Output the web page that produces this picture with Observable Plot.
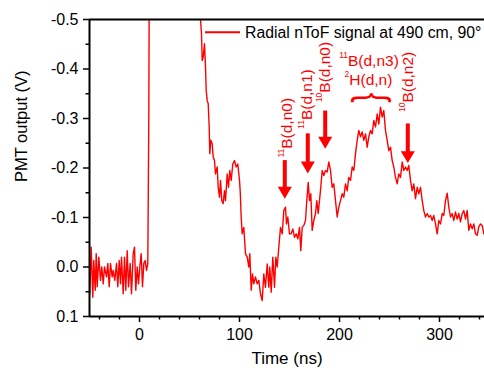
<!DOCTYPE html>
<html><head><meta charset="utf-8">
<script src="https://cdn.jsdelivr.net/npm/d3@7"></script>
<script src="https://cdn.jsdelivr.net/npm/@observablehq/plot@0.6"></script>
<style>html,body{margin:0;padding:0;background:#fff}</style>
</head><body><div id="chart"></div>
<script>
// ---- data ----
const timeNs = [-49.7,-48.3,-46.7,-45.7,-44.3,-43.3,-42.3,-40.7,-39.0,-37.7,-36.3,-35.0,-33.0,-31.7,-30.3,-29.0,-27.3,-26.3,-24.7,-23.0,-21.7,-20.3,-19.0,-18.0,-16.3,-15.0,-13.7,-12.3,-11.0,-9.3,-8.0,-6.3,-5.0,-3.7,-2.3,-1.0,0.3,1.7,3.0,4.3,5.7,7.0,8.3,9.3,9.8,
60.5,61.0,62.0,62.7,63.7,65.0,66.0,66.7,67.7,68.7,69.7,70.3,71.3,72.7,73.7,75.0,76.0,77.7,78.7,80.0,81.0,82.3,83.7,85.0,86.0,87.7,89.0,90.3,91.7,93.3,95.0,96.7,98.3,100.0,100.8,101.7,102.7,104.3,106.0,107.7,109.3,110.3,111.7,113.0,114.3,116.0,117.7,119.3,121.0,122.7,124.3,126.0,127.7,129.3,130.3,131.7,133.3,135.0,136.3,137.7,139.3,141.0,142.7,144.3,146.0,147.0,148.3,150.0,151.7,153.3,155.0,156.7,158.3,160.0,161.3,162.7,164.3,166.0,167.3,168.7,170.0,171.3,172.7,174.3,176.0,177.3,178.7,180.0,181.3,182.7,184.3,186.0,187.7,189.3,191.0,192.7,194.3,196.0,197.7,199.3,201.0,202.7,204.3,206.0,207.7,209.3,211.0,212.7,214.3,216.0,217.7,219.3,221.0,222.7,224.3,226.0,227.7,229.3,231.0,232.7,234.3,236.0,237.7,239.3,241.0,242.7,244.3,246.0,247.7,249.3,251.0,252.7,254.3,256.0,257.7,259.3,261.0,262.7,264.3,266.0,267.7,269.3,271.0,272.7,274.3,276.0,277.7,279.3,281.0,282.7,284.3,286.0,287.7,289.3,291.0,292.7,294.3,296.0,297.7,299.3,301.0,302.7,304.3,306.0,307.7,309.3,311.0,312.7,314.3,316.0,317.7,319.3,321.0,322.7,324.3,326.0,327.7,329.3,331.0,332.7,334.3,336.0,337.7,339.3,341.0,342.7,344.3];
const signalV = [0.054,-0.040,0.061,-0.013,0.047,-0.027,0.040,-0.020,0.027,0.000,0.034,0.000,0.020,-0.007,0.040,-0.007,0.020,0.007,0.027,-0.007,0.040,-0.013,0.034,-0.020,0.054,-0.020,0.047,-0.033,0.040,-0.007,0.054,-0.027,-0.040,0.047,0.000,0.034,0.000,-0.027,0.040,-0.007,-0.013,0.007,-0.007,-0.300,-0.600,
-0.600,-0.500,-0.471,-0.417,-0.424,-0.451,-0.404,-0.357,-0.336,-0.330,-0.282,-0.229,-0.256,-0.249,-0.222,-0.215,-0.188,-0.202,-0.161,-0.141,-0.175,-0.134,-0.128,-0.154,-0.134,-0.188,-0.161,-0.195,-0.175,-0.208,-0.215,-0.202,-0.208,-0.175,-0.150,-0.100,-0.067,-0.080,-0.027,-0.020,0.000,-0.027,0.047,0.014,0.034,0.020,0.034,0.027,0.054,0.068,0.014,0.041,-0.006,0.041,0.000,0.051,-0.020,0.041,-0.020,0.000,-0.040,-0.080,-0.067,-0.114,-0.121,-0.087,-0.101,-0.067,-0.067,-0.077,-0.060,-0.067,-0.057,-0.080,-0.033,-0.080,-0.084,-0.094,-0.134,-0.171,-0.134,-0.148,-0.074,-0.094,-0.108,-0.134,-0.108,-0.134,-0.161,-0.195,-0.185,-0.195,-0.192,-0.212,-0.195,-0.161,-0.168,-0.134,-0.101,-0.121,-0.134,-0.148,-0.141,-0.168,-0.154,-0.181,-0.175,-0.202,-0.195,-0.229,-0.256,-0.276,-0.263,-0.273,-0.256,-0.269,-0.242,-0.263,-0.276,-0.269,-0.296,-0.283,-0.309,-0.289,-0.323,-0.303,-0.316,-0.276,-0.256,-0.235,-0.242,-0.215,-0.202,-0.181,-0.168,-0.188,-0.181,-0.212,-0.195,-0.202,-0.195,-0.205,-0.175,-0.154,-0.168,-0.138,-0.161,-0.148,-0.161,-0.134,-0.114,-0.101,-0.108,-0.101,-0.104,-0.094,-0.104,-0.087,-0.067,-0.094,-0.087,-0.108,-0.104,-0.134,-0.149,-0.121,-0.101,-0.108,-0.094,-0.111,-0.097,-0.108,-0.091,-0.108,-0.114,-0.097,-0.114,-0.074,-0.087,-0.077,-0.087,-0.067,-0.064,-0.081,-0.087,-0.084,-0.067];

const xMajorTicks = [0, 100, 200, 300];
const xMinorTicks = [-40, -20, 20, 40, 60, 80, 120, 140, 160, 180, 220, 240, 260, 280, 320, 340];
const yMajorTicks = [-0.5, -0.4, -0.3, -0.2, -0.1, 0.0, 0.1];
const yMinorTicks = [-0.45, -0.35, -0.25, -0.15, -0.05, 0.05];

const arrowX = [145.3, 168.3, 185.7, 268.3];
const arrowTop = [-0.215, -0.269, -0.315, -0.289];
const arrowTip = [-0.138, -0.189, -0.239, -0.210];

const reactionSup = ["11", "11", "10", "10"];
const reactionMain = ["B(d,n0)", "B(d,n1)", "B(d,n0)", "B(d,n2)"];
const reactionX = [147.5, 168.0, 185.7, 269.0];
const reactionY = [-0.221, -0.279, -0.333, -0.313];

const groupSup = ["11", "2"];
const groupMain = ["B(d,n3)", "H(d,n)"];
const groupX = [229.5, 229.0];
const groupY = [-0.416, -0.377];

const braceX = [228.7];
const braceY = [-0.342];

const legendLabel = "Radial nToF signal at 490 cm, 90°";
const xTitle = "Time (ns)";
const yTitle = "PMT output (V)";

// ---- build ----
const RED = "#ff0000";
const series = timeNs.map((t, i) => ({t, v: signalV[i]}));
const arrows = arrowX.map((x, i) => ({x, top: arrowTop[i], tip: arrowTip[i]}));
const reactions = reactionMain.map((m, i) => ({x: reactionX[i], y: reactionY[i], label: reactionSup[i] + "|" + m}));
const groups = groupMain.map((m, i) => ({x: groupX[i], y: groupY[i], label: groupSup[i] + "|" + m}));
const braces = braceX.map((x, i) => ({x, y: braceY[i]}));

const headSymbol = {
  draw(ctx, size) {
    const r = Math.sqrt(size / Math.PI);
    ctx.moveTo(0, 0);
    ctx.lineTo(-r, -1.7 * r);
    ctx.lineTo(r, -1.7 * r);
    ctx.closePath();
  }
};

const plot = Plot.plot({
  width: 484, height: 373,
  marginLeft: 89, marginRight: 0, marginTop: 19, marginBottom: 57,
  style: {fontFamily: "'Liberation Sans', Arial, sans-serif", fontSize: "16px", color: "black", background: "white", overflow: "visible"},
  x: {domain: [-50, 345]},
  y: {domain: [0.1, -0.5]},
  marks: [
    Plot.axisX({ticks: xMinorTicks, tickSize: 3.5, tickFormat: () => "", strokeWidth: 1.5, label: null}),
    Plot.axisX({ticks: xMajorTicks, tickSize: 6, tickPadding: 6.5, tickFormat: d => String(d), strokeWidth: 1.5, label: null}),
    Plot.axisY({ticks: yMinorTicks, tickSize: 3.5, tickFormat: () => "", strokeWidth: 1.5, label: null}),
    Plot.axisY({ticks: yMajorTicks, tickSize: 6, tickPadding: 5, tickFormat: d => d.toFixed(1), strokeWidth: 1.5, label: null}),
    Plot.line(series, {x: "t", y: "v", stroke: RED, strokeWidth: 1.4, clip: true}),
    Plot.ruleY([-0.5, 0.1], {stroke: "black", strokeWidth: 2}),
    Plot.ruleX([-50], {stroke: "black", strokeWidth: 2}),
    Plot.ruleX(arrows, {x: "x", y1: "top", y2: "tip", stroke: RED, strokeWidth: 4, insetBottom: 8}),
    Plot.dot(arrows, {x: "x", y: "tip", r: 7, symbol: headSymbol, fill: RED, stroke: "none"}),
    Plot.text(reactions, {x: "x", y: "y", text: "label", rotate: -90, textAnchor: "start", fill: RED, fontSize: 15.5}),
    Plot.text(groups, {x: "x", y: "y", text: "label", textAnchor: "middle", fill: RED, fontSize: 15.5}),
    Plot.text(braces, {x: "x", y: "y", text: () => "}", rotate: -90, textAnchor: "middle", fill: RED, fontSize: 43}),
    Plot.text([xTitle], {frameAnchor: "bottom", dy: 47, fontSize: 17}),
    Plot.text([yTitle], {frameAnchor: "left", dx: -68, dy: 14, rotate: -90, fontSize: 16.5})
  ]
});

const svgEl = plot.tagName.toLowerCase() === "svg" ? plot : plot.querySelector("svg");
const NS = "http://www.w3.org/2000/svg";

// superscripts
svgEl.querySelectorAll("text").forEach(t => {
  if (!t.textContent.includes("|")) return;
  const parts = t.textContent.split("|");
  t.textContent = "";
  const s = document.createElementNS(NS, "tspan");
  s.setAttribute("font-size", "8.5");
  s.setAttribute("dy", "-8");
  s.textContent = parts[0];
  const m = document.createElementNS(NS, "tspan");
  m.setAttribute("dy", "8");
  m.textContent = parts[1];
  t.append(s, m);
});

// thinner, flatter brace
svgEl.querySelectorAll("text").forEach(t => {
  if (t.textContent === "}") {
    const tr = t.getAttribute("transform") || "";
    t.setAttribute("transform", tr + " scale(0.7,1)");
  }
});

// legend
const svg = d3.select(svgEl);
const lg = svg.append("g");
lg.append("line").attr("x1", 205).attr("x2", 240).attr("y1", 32.3).attr("y2", 32.3).attr("stroke", RED).attr("stroke-width", 2);
lg.append("text").attr("x", 245).attr("y", 37.5).attr("text-anchor", "start").attr("font-size", 15.8).attr("fill", "black").text(legendLabel);

document.getElementById("chart").append(plot);
</script>
</body></html>
